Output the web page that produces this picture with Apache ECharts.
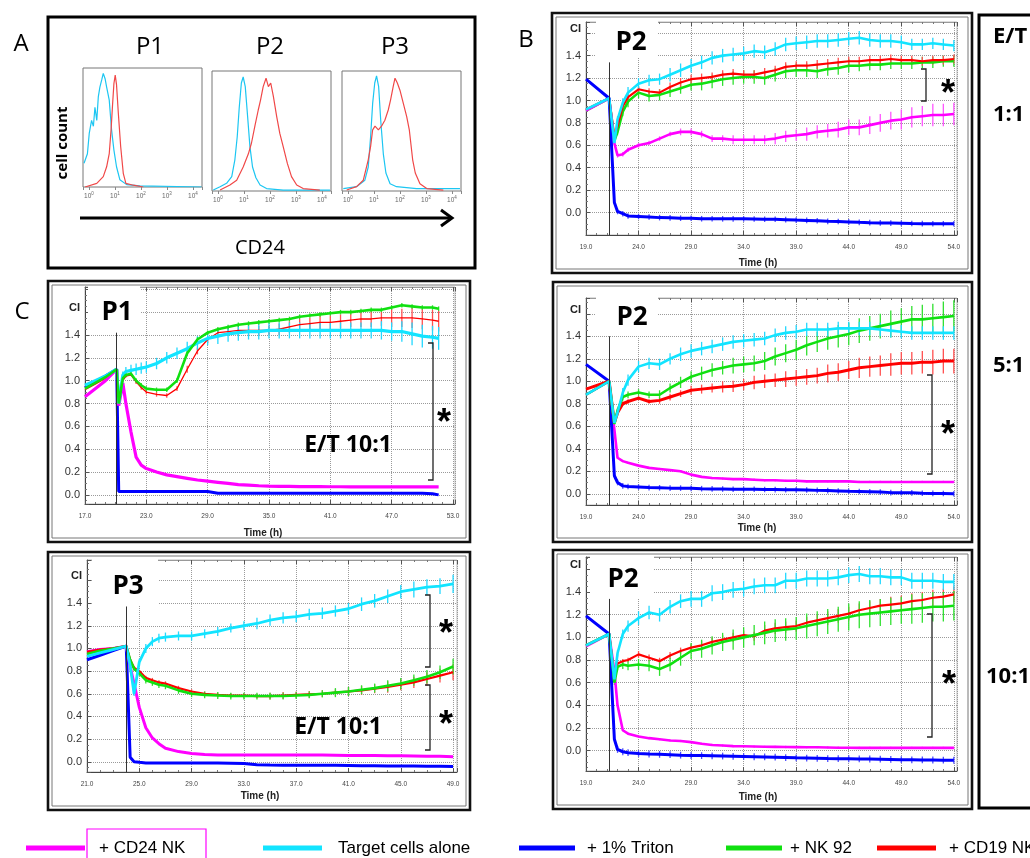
<!DOCTYPE html>
<html>
<head>
<meta charset="utf-8">
<title>CD24 NK cytotoxicity</title>
<script src="https://cdn.jsdelivr.net/npm/echarts@6.0.0/dist/echarts.min.js"></script>
<style>
  html, body { margin: 0; padding: 0; background: #fff; }
  #chart { width: 1030px; height: 858px; }
</style>
</head>
<body>
<div id="chart"></div>
<script>
// ---- A: CD24 histograms  [log10 intensity, relative count] ----
const histP1Cyan = [[-0.19,0.20],[-0.06,0.28],[0.01,0.45],[0.10,0.56],[0.17,0.51],[0.23,0.67],[0.30,0.56],[0.36,0.76],[0.42,0.84],[0.49,0.90],[0.55,0.955],[0.62,0.91],[0.68,0.84],[0.78,0.73],[0.87,0.48],[0.96,0.31],[1.06,0.17],[1.19,0.06],[1.45,0.02],[1.96,0.01],[4.33,0.0]];
const histP1Red = [[-0.15,0.0],[0.30,0.03],[0.55,0.087],[0.68,0.17],[0.78,0.28],[0.85,0.48],[0.91,0.70],[0.96,0.87],[1.01,0.94],[1.06,0.86],[1.13,0.62],[1.22,0.34],[1.32,0.115],[1.42,0.03],[1.71,0.015],[2.09,0.0]];
const histP2Cyan = [[-0.18,0.008],[0.08,0.036],[0.33,0.064],[0.53,0.12],[0.65,0.26],[0.74,0.45],[0.82,0.70],[0.90,0.90],[0.97,0.95],[1.05,0.87],[1.13,0.65],[1.23,0.37],[1.33,0.20],[1.46,0.11],[1.62,0.05],[1.87,0.02],[2.51,0.008],[4.31,0.008]];
const histP2Red = [[0.08,0.008],[0.46,0.05],[0.72,0.09],[0.97,0.20],[1.17,0.31],[1.29,0.40],[1.42,0.54],[1.55,0.675],[1.64,0.76],[1.74,0.87],[1.85,0.94],[1.94,0.87],[2.03,0.90],[2.13,0.79],[2.26,0.62],[2.38,0.48],[2.51,0.37],[2.67,0.23],[2.83,0.12],[3.03,0.05],[3.28,0.02],[3.92,0.008]];
const histP3Cyan = [[-0.18,0.02],[0.33,0.036],[0.65,0.09],[0.78,0.20],[0.87,0.45],[0.95,0.73],[1.03,0.90],[1.10,0.96],[1.18,0.87],[1.26,0.59],[1.36,0.31],[1.46,0.15],[1.62,0.06],[1.87,0.036],[2.64,0.02],[4.31,0.02]];
const histP3Red = [[-0.05,0.008],[0.33,0.036],[0.59,0.09],[0.78,0.26],[0.87,0.37],[0.95,0.51],[1.04,0.54],[1.17,0.51],[1.29,0.54],[1.42,0.59],[1.55,0.675],[1.64,0.76],[1.74,0.87],[1.81,0.94],[1.90,0.90],[2.00,0.84],[2.13,0.73],[2.26,0.62],[2.36,0.51],[2.49,0.26],[2.59,0.15],[2.77,0.06],[3.03,0.02],[3.67,0.008]];

// ---- P2 panels (B 1:1, C 5:1, C 10:1), time in h ----
const timeP2 = [19, 21.2, 21.7, 22, 22.5, 23, 24, 25, 26, 27, 28, 29, 30, 31, 32, 33, 34, 35, 36, 37, 38, 39, 40, 41, 42, 43, 44, 45, 46, 47, 48, 49, 50, 51, 52, 53, 54];

// B, E/T 1:1
const cyan11 = [0.92, 1.02, 0.62, 0.83, 0.98, 1.07, 1.15, 1.18, 1.19, 1.23, 1.27, 1.31, 1.34, 1.38, 1.40, 1.41, 1.42, 1.44, 1.43, 1.46, 1.50, 1.51, 1.52, 1.53, 1.53, 1.54, 1.55, 1.56, 1.54, 1.53, 1.53, 1.52, 1.50, 1.50, 1.51, 1.50, 1.49];
const red11 = [0.92, 1.02, 0.68, 0.77, 0.95, 1.03, 1.10, 1.08, 1.07, 1.12, 1.16, 1.19, 1.20, 1.21, 1.23, 1.24, 1.23, 1.23, 1.25, 1.27, 1.30, 1.31, 1.31, 1.32, 1.33, 1.34, 1.35, 1.35, 1.36, 1.36, 1.37, 1.36, 1.36, 1.35, 1.36, 1.36, 1.37];
const green11 = [0.91, 1.02, 0.64, 0.72, 0.90, 0.99, 1.07, 1.04, 1.05, 1.08, 1.11, 1.14, 1.15, 1.17, 1.19, 1.20, 1.21, 1.21, 1.20, 1.23, 1.26, 1.27, 1.27, 1.26, 1.28, 1.29, 1.31, 1.31, 1.32, 1.32, 1.33, 1.33, 1.33, 1.34, 1.34, 1.35, 1.35];
const mag11 = [0.91, 1.02, 0.62, 0.51, 0.52, 0.56, 0.60, 0.62, 0.66, 0.70, 0.72, 0.72, 0.70, 0.66, 0.66, 0.65, 0.65, 0.65, 0.65, 0.66, 0.68, 0.69, 0.70, 0.72, 0.73, 0.74, 0.76, 0.76, 0.78, 0.80, 0.82, 0.83, 0.85, 0.86, 0.87, 0.87, 0.88];
const blue11 = [1.19, 1.02, 0.09, 0.01, -0.01, -0.03, -0.035, -0.04, -0.045, -0.047, -0.05, -0.05, -0.055, -0.055, -0.056, -0.056, -0.056, -0.057, -0.06, -0.06, -0.063, -0.067, -0.07, -0.073, -0.078, -0.08, -0.083, -0.087, -0.09, -0.092, -0.094, -0.096, -0.098, -0.099, -0.1, -0.1, -0.1];
const cyan11Err = [0, 0, 0.02, 0.03, 0.04, 0.05, 0.05, 0.05, 0.05, 0.06, 0.06, 0.06, 0.06, 0.06, 0.06, 0.06, 0.06, 0.06, 0.06, 0.06, 0.06, 0.06, 0.06, 0.06, 0.06, 0.06, 0.06, 0.06, 0.06, 0.06, 0.06, 0.06, 0.05, 0.05, 0.05, 0.05, 0.05];
const red11Err = [0, 0, 0.02, 0.02, 0.03, 0.03, 0.03, 0.03, 0.03, 0.04, 0.04, 0.04, 0.04, 0.04, 0.04, 0.04, 0.04, 0.04, 0.04, 0.04, 0.04, 0.04, 0.04, 0.04, 0.04, 0.04, 0.04, 0.04, 0.04, 0.04, 0.04, 0.04, 0.04, 0.04, 0.04, 0.04, 0.04];
const green11Err = [0, 0, 0.02, 0.03, 0.04, 0.05, 0.05, 0.05, 0.05, 0.05, 0.05, 0.05, 0.06, 0.06, 0.06, 0.06, 0.06, 0.06, 0.06, 0.06, 0.06, 0.06, 0.06, 0.06, 0.06, 0.06, 0.06, 0.05, 0.05, 0.05, 0.05, 0.05, 0.05, 0.05, 0.05, 0.05, 0.05];
const mag11Err = [0, 0, 0.01, 0.02, 0.02, 0.02, 0.02, 0.02, 0.02, 0.02, 0.03, 0.03, 0.03, 0.03, 0.03, 0.04, 0.04, 0.04, 0.04, 0.05, 0.05, 0.05, 0.06, 0.06, 0.06, 0.07, 0.07, 0.07, 0.08, 0.08, 0.08, 0.09, 0.09, 0.09, 0.1, 0.1, 0.1];
const blue11Err = [0, 0, 0, 0.025, 0.025, 0.025, 0.025, 0.025, 0.025, 0.025, 0.025, 0.025, 0.025, 0.025, 0.025, 0.025, 0.025, 0.025, 0.025, 0.025, 0.025, 0.025, 0.025, 0.025, 0.025, 0.025, 0.025, 0.025, 0.025, 0.025, 0.025, 0.025, 0.025, 0.025, 0.025, 0.025, 0.025];

// C, P2 E/T 5:1
const cyan51 = [0.88, 1.0, 0.63, 0.72, 0.90, 1.01, 1.13, 1.16, 1.15, 1.20, 1.24, 1.27, 1.29, 1.31, 1.33, 1.35, 1.36, 1.37, 1.38, 1.41, 1.43, 1.44, 1.46, 1.46, 1.46, 1.47, 1.47, 1.47, 1.47, 1.46, 1.45, 1.44, 1.43, 1.43, 1.43, 1.43, 1.43];
const green51 = [0.88, 1.0, 0.62, 0.74, 0.86, 0.88, 0.90, 0.88, 0.88, 0.94, 0.99, 1.04, 1.07, 1.10, 1.12, 1.14, 1.15, 1.16, 1.18, 1.22, 1.25, 1.28, 1.32, 1.35, 1.38, 1.40, 1.42, 1.45, 1.47, 1.49, 1.51, 1.53, 1.55, 1.55, 1.56, 1.57, 1.58];
const red51 = [0.93, 1.0, 0.63, 0.72, 0.80, 0.82, 0.85, 0.82, 0.83, 0.86, 0.89, 0.92, 0.93, 0.94, 0.95, 0.955, 0.97, 0.99, 1.0, 1.01, 1.02, 1.03, 1.04, 1.05, 1.07, 1.08, 1.10, 1.12, 1.13, 1.14, 1.15, 1.16, 1.16, 1.17, 1.17, 1.18, 1.18];
const mag51 = [0.88, 1.0, 0.57, 0.32, 0.29, 0.275, 0.25, 0.23, 0.22, 0.21, 0.20, 0.17, 0.15, 0.14, 0.135, 0.13, 0.13, 0.125, 0.12, 0.12, 0.115, 0.115, 0.11, 0.11, 0.11, 0.11, 0.11, 0.105, 0.105, 0.105, 0.105, 0.105, 0.105, 0.105, 0.105, 0.105, 0.105];
const blue51 = [1.15, 1.0, 0.16, 0.10, 0.07, 0.065, 0.06, 0.055, 0.053, 0.05, 0.05, 0.048, 0.045, 0.043, 0.042, 0.04, 0.04, 0.04, 0.038, 0.037, 0.036, 0.035, 0.033, 0.03, 0.028, 0.025, 0.022, 0.02, 0.018, 0.015, 0.01, 0.01, 0.008, 0.005, 0.003, 0.002, 0.0];
const cyan51Err = [0, 0, 0.02, 0.03, 0.04, 0.05, 0.05, 0.05, 0.05, 0.05, 0.06, 0.06, 0.06, 0.06, 0.06, 0.06, 0.06, 0.06, 0.06, 0.06, 0.06, 0.06, 0.06, 0.06, 0.06, 0.06, 0.06, 0.06, 0.06, 0.06, 0.06, 0.06, 0.06, 0.06, 0.06, 0.06, 0.06];
const green51Err = [0, 0, 0.02, 0.02, 0.03, 0.03, 0.03, 0.03, 0.04, 0.04, 0.05, 0.05, 0.06, 0.06, 0.06, 0.07, 0.07, 0.07, 0.08, 0.08, 0.08, 0.09, 0.09, 0.09, 0.1, 0.1, 0.1, 0.11, 0.11, 0.11, 0.12, 0.12, 0.12, 0.13, 0.13, 0.14, 0.14];
const red51Err = [0, 0, 0.01, 0.02, 0.02, 0.02, 0.02, 0.02, 0.03, 0.03, 0.03, 0.04, 0.04, 0.04, 0.05, 0.05, 0.05, 0.06, 0.06, 0.06, 0.07, 0.07, 0.07, 0.07, 0.08, 0.08, 0.08, 0.09, 0.09, 0.09, 0.1, 0.1, 0.1, 0.1, 0.11, 0.11, 0.11];
const mag51Err = [0, 0, 0.01, 0.01, 0.01, 0.01, 0.01, 0.01, 0.01, 0.01, 0.01, 0.01, 0.01, 0.01, 0.01, 0.01, 0.01, 0.01, 0.01, 0.01, 0.01, 0.01, 0.01, 0.01, 0.01, 0.01, 0.01, 0.01, 0.01, 0.01, 0.01, 0.01, 0.01, 0.01, 0.01, 0.01, 0.01];
const blue51Err = [0, 0, 0, 0.025, 0.025, 0.025, 0.025, 0.025, 0.025, 0.025, 0.025, 0.025, 0.025, 0.025, 0.025, 0.025, 0.025, 0.025, 0.025, 0.025, 0.025, 0.025, 0.025, 0.025, 0.025, 0.025, 0.025, 0.025, 0.025, 0.025, 0.025, 0.025, 0.025, 0.025, 0.025, 0.025, 0.025];

// C, P2 E/T 10:1
const cyan101 = [0.93, 1.03, 0.63, 0.86, 1.03, 1.10, 1.17, 1.22, 1.20, 1.27, 1.32, 1.34, 1.34, 1.39, 1.40, 1.42, 1.43, 1.45, 1.46, 1.46, 1.50, 1.50, 1.52, 1.52, 1.52, 1.53, 1.55, 1.56, 1.54, 1.54, 1.53, 1.53, 1.50, 1.50, 1.50, 1.49, 1.49];
const red101 = [0.93, 1.03, 0.65, 0.77, 0.79, 0.80, 0.85, 0.82, 0.79, 0.84, 0.88, 0.91, 0.93, 0.96, 0.98, 1.0, 1.02, 1.01, 1.06, 1.08, 1.09, 1.10, 1.13, 1.15, 1.17, 1.19, 1.21, 1.24, 1.26, 1.28, 1.29, 1.30, 1.32, 1.33, 1.35, 1.36, 1.38];
const green101 = [0.93, 1.03, 0.60, 0.74, 0.76, 0.75, 0.76, 0.75, 0.72, 0.76, 0.82, 0.88, 0.90, 0.93, 0.96, 0.98, 1.0, 1.02, 1.04, 1.06, 1.07, 1.08, 1.10, 1.12, 1.14, 1.16, 1.18, 1.20, 1.21, 1.22, 1.23, 1.24, 1.25, 1.26, 1.27, 1.27, 1.28];
const mag101 = [0.92, 1.03, 0.70, 0.40, 0.18, 0.15, 0.125, 0.11, 0.10, 0.09, 0.085, 0.075, 0.06, 0.05, 0.045, 0.04, 0.038, 0.036, 0.034, 0.033, 0.032, 0.031, 0.03, 0.03, 0.028, 0.026, 0.025, 0.024, 0.024, 0.024, 0.024, 0.024, 0.024, 0.024, 0.024, 0.024, 0.024];
const blue101 = [1.19, 1.03, 0.10, 0.01, -0.01, -0.018, -0.025, -0.03, -0.033, -0.036, -0.04, -0.043, -0.044, -0.046, -0.048, -0.05, -0.052, -0.054, -0.056, -0.058, -0.061, -0.064, -0.066, -0.068, -0.07, -0.071, -0.072, -0.073, -0.074, -0.076, -0.078, -0.08, -0.081, -0.082, -0.083, -0.084, -0.085];
const cyan101Err = [0, 0, 0.02, 0.03, 0.04, 0.05, 0.06, 0.06, 0.06, 0.06, 0.06, 0.07, 0.07, 0.07, 0.07, 0.07, 0.07, 0.07, 0.07, 0.07, 0.07, 0.07, 0.07, 0.07, 0.07, 0.07, 0.07, 0.07, 0.07, 0.07, 0.07, 0.07, 0.07, 0.07, 0.07, 0.07, 0.07];
const green101Err = [0, 0, 0.02, 0.03, 0.04, 0.04, 0.05, 0.05, 0.06, 0.06, 0.07, 0.07, 0.08, 0.08, 0.08, 0.09, 0.09, 0.09, 0.1, 0.1, 0.1, 0.1, 0.11, 0.11, 0.11, 0.11, 0.12, 0.12, 0.12, 0.12, 0.12, 0.12, 0.13, 0.13, 0.13, 0.13, 0.13];
const red101Err = [0, 0, 0.01, 0.02, 0.02, 0.02, 0.03, 0.03, 0.03, 0.03, 0.03, 0.03, 0.04, 0.04, 0.04, 0.04, 0.04, 0.04, 0.05, 0.05, 0.05, 0.05, 0.05, 0.05, 0.06, 0.06, 0.06, 0.06, 0.06, 0.06, 0.07, 0.07, 0.07, 0.07, 0.07, 0.07, 0.07];
const mag101Err = mag51Err;
const blue101Err = [0, 0, 0, 0.03, 0.03, 0.03, 0.03, 0.03, 0.03, 0.03, 0.03, 0.03, 0.03, 0.03, 0.03, 0.03, 0.03, 0.03, 0.03, 0.03, 0.03, 0.03, 0.03, 0.03, 0.03, 0.03, 0.03, 0.03, 0.03, 0.03, 0.03, 0.03, 0.03, 0.03, 0.03, 0.03, 0.03];

// ---- C, P1 E/T 10:1 ----
const timeP1 = [17, 18, 19, 20.1, 20.3, 20.7, 21, 21.5, 22, 22.5, 23, 24, 25, 26, 27, 28, 29, 30, 31, 32, 33, 34, 35, 36, 37, 38, 39, 40, 41, 42, 43, 44, 45, 46, 47, 48, 49, 50, 51, 51.6];
const cyanP1 = [0.96, 1.0, 1.04, 1.1, 0.8, 1.05, 1.08, 1.09, 1.10, 1.11, 1.12, 1.15, 1.20, 1.24, 1.28, 1.33, 1.37, 1.39, 1.41, 1.42, 1.43, 1.43, 1.44, 1.44, 1.44, 1.44, 1.44, 1.44, 1.44, 1.44, 1.44, 1.44, 1.44, 1.44, 1.43, 1.43, 1.41, 1.39, 1.38, 1.37];
const greenP1 = [0.93, 0.98, 1.03, 1.1, 0.8, 1.02, 1.05, 1.06, 1.0, 0.96, 0.93, 0.92, 0.92, 1.0, 1.24, 1.36, 1.42, 1.45, 1.47, 1.49, 1.50, 1.51, 1.52, 1.53, 1.54, 1.56, 1.57, 1.58, 1.59, 1.60, 1.60, 1.61, 1.62, 1.62, 1.64, 1.66, 1.65, 1.64, 1.64, 1.63];
const redP1 = [0.92, 0.97, 1.02, 1.1, 0.8, 1.0, 1.04, 1.05, 0.99, 0.94, 0.90, 0.88, 0.87, 0.93, 1.10, 1.26, 1.36, 1.42, 1.43, 1.44, 1.44, 1.44, 1.44, 1.45, 1.47, 1.49, 1.50, 1.51, 1.51, 1.52, 1.53, 1.54, 1.54, 1.55, 1.55, 1.55, 1.55, 1.54, 1.53, 1.52];
const magP1 = [0.86, 0.93, 1.0, 1.1, 0.78, 0.98, 0.80, 0.55, 0.33, 0.26, 0.23, 0.20, 0.175, 0.16, 0.145, 0.13, 0.12, 0.11, 0.10, 0.09, 0.085, 0.08, 0.076, 0.075, 0.074, 0.073, 0.072, 0.072, 0.071, 0.071, 0.07, 0.07, 0.07, 0.07, 0.07, 0.07, 0.07, 0.07, 0.07, 0.07];
const blueP1 = [0.94, 0.99, 1.04, 1.10, 0.03, 0.03, 0.03, 0.03, 0.03, 0.03, 0.03, 0.03, 0.03, 0.03, 0.03, 0.03, 0.03, 0.015, 0.015, 0.015, 0.015, 0.015, 0.015, 0.015, 0.015, 0.015, 0.015, 0.015, 0.015, 0.015, 0.015, 0.015, 0.015, 0.015, 0.015, 0.015, 0.015, 0.015, 0.01, 0.0];
const cyanP1Err = [0, 0, 0, 0, 0.02, 0.03, 0.04, 0.05, 0.05, 0.05, 0.05, 0.05, 0.05, 0.05, 0.06, 0.06, 0.06, 0.07, 0.07, 0.07, 0.07, 0.07, 0.07, 0.07, 0.07, 0.07, 0.07, 0.07, 0.07, 0.07, 0.07, 0.07, 0.07, 0.08, 0.08, 0.09, 0.1, 0.1, 0.1, 0.1];
const greenP1Err = [0, 0, 0, 0, 0.02, 0.02, 0.02, 0.02, 0.02, 0.02, 0.02, 0.02, 0.02, 0.02, 0.02, 0.02, 0.02, 0.02, 0.02, 0.02, 0.02, 0.02, 0.02, 0.02, 0.02, 0.02, 0.02, 0.02, 0.02, 0.02, 0.02, 0.02, 0.02, 0.02, 0.02, 0.02, 0.02, 0.02, 0.02, 0.02];
const redP1Err = [0, 0, 0, 0, 0.01, 0.01, 0.01, 0.01, 0.02, 0.02, 0.02, 0.02, 0.02, 0.02, 0.03, 0.03, 0.03, 0.03, 0.04, 0.04, 0.04, 0.04, 0.04, 0.05, 0.05, 0.05, 0.05, 0.06, 0.06, 0.06, 0.06, 0.07, 0.07, 0.07, 0.08, 0.08, 0.09, 0.09, 0.09, 0.09];

// ---- C, P3 E/T 10:1 ----
const timeP3 = [21, 22, 23, 24, 24.3, 24.6, 25, 25.5, 26, 26.5, 27, 28, 29, 30, 31, 32, 33, 34, 35, 36, 37, 38, 39, 40, 41, 42, 43, 44, 45, 46, 47, 48, 49];
const cyanP3 = [0.93, 0.96, 0.99, 1.02, 0.85, 0.60, 0.88, 1.0, 1.06, 1.09, 1.10, 1.11, 1.11, 1.13, 1.15, 1.18, 1.20, 1.22, 1.25, 1.27, 1.28, 1.30, 1.31, 1.33, 1.35, 1.39, 1.42, 1.46, 1.50, 1.52, 1.54, 1.55, 1.57];
const greenP3 = [0.95, 0.98, 1.0, 1.02, 0.90, 0.82, 0.78, 0.72, 0.70, 0.68, 0.67, 0.63, 0.60, 0.59, 0.585, 0.58, 0.58, 0.58, 0.58, 0.58, 0.585, 0.59, 0.60, 0.61, 0.62, 0.635, 0.65, 0.67, 0.69, 0.72, 0.75, 0.79, 0.84];
const redP3 = [0.97, 0.99, 1.0, 1.02, 0.90, 0.83, 0.80, 0.74, 0.72, 0.70, 0.69, 0.65, 0.62, 0.60, 0.59, 0.585, 0.585, 0.58, 0.58, 0.585, 0.59, 0.595, 0.60, 0.61, 0.62, 0.63, 0.645, 0.66, 0.68, 0.70, 0.73, 0.76, 0.79];
const magP3 = [0.97, 0.99, 1.0, 1.02, 0.84, 0.69, 0.48, 0.30, 0.21, 0.16, 0.12, 0.09, 0.074, 0.065, 0.06, 0.06, 0.06, 0.06, 0.06, 0.06, 0.06, 0.06, 0.06, 0.058, 0.056, 0.055, 0.055, 0.054, 0.053, 0.052, 0.05, 0.048, 0.045];
const blueP3 = [0.90, 0.94, 0.98, 1.02, 0.04, 0.0, -0.005, -0.01, -0.01, -0.01, -0.01, -0.01, -0.01, -0.01, -0.01, -0.012, -0.015, -0.025, -0.028, -0.03, -0.03, -0.03, -0.03, -0.03, -0.032, -0.035, -0.035, -0.037, -0.038, -0.038, -0.04, -0.04, -0.042];
const cyanP3Err = [0, 0, 0, 0, 0.01, 0.02, 0.03, 0.04, 0.04, 0.04, 0.04, 0.04, 0.04, 0.04, 0.04, 0.04, 0.04, 0.05, 0.05, 0.05, 0.05, 0.05, 0.05, 0.05, 0.05, 0.06, 0.06, 0.06, 0.06, 0.07, 0.07, 0.07, 0.08];
const greenP3Err = [0, 0, 0, 0, 0.01, 0.02, 0.02, 0.03, 0.03, 0.03, 0.03, 0.03, 0.03, 0.03, 0.03, 0.03, 0.03, 0.03, 0.03, 0.03, 0.03, 0.03, 0.03, 0.04, 0.04, 0.04, 0.04, 0.05, 0.05, 0.05, 0.06, 0.06, 0.07];
const redP3Err = [0, 0, 0, 0, 0.01, 0.01, 0.01, 0.02, 0.02, 0.02, 0.02, 0.02, 0.02, 0.02, 0.02, 0.02, 0.02, 0.02, 0.03, 0.03, 0.03, 0.03, 0.03, 0.03, 0.04, 0.04, 0.04, 0.05, 0.05, 0.05, 0.06, 0.06, 0.07];

const legendNames = ['+ CD24 NK', 'Target cells alone', '+ 1% Triton', '+ NK 92', '+ CD19 NK'];

const COL = {
  mag:   { line: '#ff00ff', err: '#ff55ff' },
  cyan:  { line: '#12e4ff', err: '#22d8ff' },
  blue:  { line: '#0000ff', err: '#5050ff' },
  green: { line: '#10e010', err: '#30e030' },
  red:   { line: '#ff0000', err: '#ff5050' }
};

const chart = echarts.init(document.getElementById('chart'), null, { renderer: 'canvas' });

const grids = [], xAxes = [], yAxes = [], series = [], graphic = [];

// histogram grids (panel A)
const histPanels = [
  { box: { left: 83, top: 68, width: 119, height: 119 }, cyan: histP1Cyan, red: histP1Red },
  { box: { left: 212, top: 71, width: 119, height: 120 }, cyan: histP2Cyan, red: histP2Red },
  { box: { left: 342, top: 71, width: 119, height: 120 }, cyan: histP3Cyan, red: histP3Red }
];
histPanels.forEach((h, i) => {
  grids.push(Object.assign({ show: true, borderColor: '#777', borderWidth: 1, outerBoundsMode: 'none' }, h.box));
  xAxes.push({
    type: 'value', gridIndex: i, min: -0.23, max: 4.35, minInterval: 1, maxInterval: 1, splitNumber: 5,
    axisLine: { show: false },
    axisTick: { show: true, length: 3, lineStyle: { color: '#888' } },
    axisLabel: {
      fontSize: 6.5, color: '#666', margin: 4,
      formatter: v => Math.abs(v - Math.round(v)) < 1e-6 ? '10{s|' + Math.round(v) + '}' : '',
      rich: { s: { fontSize: 4.5, color: '#666', padding: [0, 0, 5, 0] } }
    },
    splitLine: { show: false }
  });
  yAxes.push({ type: 'value', gridIndex: i, min: 0, max: 1, show: false });
  series.push({ type: 'line', xAxisIndex: i, yAxisIndex: i, data: h.cyan, symbol: 'none', silent: true,
    lineStyle: { color: '#1cc6f2', width: 1.2 } });
  series.push({ type: 'line', xAxisIndex: i, yAxisIndex: i, data: h.red, symbol: 'none', silent: true,
    lineStyle: { color: '#f04848', width: 1.2 } });
});

// CI panels
function ciPanel(k, box, xr, yr, times, curves, drop) {
  const gi = 3 + k;
  grids.push(Object.assign({ show: true, borderColor: '#bbb', borderWidth: 1, outerBoundsMode: 'none' }, box));
  const [xmin, xmax, step] = xr;
  ['bottom', 'top'].forEach(pos => {
    const bottom = pos === 'bottom';
    xAxes.push({
      type: 'value', gridIndex: gi, position: pos, min: xmin, max: xmax, interval: step,
      axisLine: { show: true, onZero: false, lineStyle: { color: bottom ? '#444' : '#999', width: 1 } },
      axisTick: { show: true, inside: true, length: 4, lineStyle: { color: '#555' } },
      minorTick: { show: true, splitNumber: step, length: 2, lineStyle: { color: '#777' } },
      axisLabel: bottom ? {
        show: true, fontSize: 6.5, color: '#444', margin: 9, fontFamily: 'Liberation Sans',
        formatter: v => { const r = (v - xmin) / step; return Math.abs(r - Math.round(r)) < 1e-6 ? v.toFixed(1) : ''; }
      } : { show: false },
      splitLine: { show: bottom, lineStyle: { color: '#9a9a9a', type: 'dotted', width: 1 } }
    });
  });
  yAxes.push({
    type: 'value', gridIndex: gi, min: yr[0], max: yr[1], minInterval: 0.2, maxInterval: 0.2, splitNumber: 9,
    axisLine: { show: true, onZero: false, lineStyle: { color: '#444' } },
    axisTick: { show: true, inside: true, length: 4, lineStyle: { color: '#555' } },
    minorTick: { show: true, splitNumber: 4, length: 2, lineStyle: { color: '#777' } },
    axisLabel: {
      fontSize: 11, color: '#333', margin: 5, fontFamily: 'Liberation Sans',
      formatter: v => {
        if (Math.abs(v - 1.6) < 1e-6) return '{ci|CI}';
        const r = Math.round(v / 0.2);
        if (Math.abs(v - r * 0.2) > 1e-6 || v < -1e-6 || v > 1.41) return '';
        return Math.abs(v) < 1e-6 ? '0.0' : v.toFixed(1);
      },
      rich: { ci: { fontSize: 11, fontWeight: 'bold', color: '#222', fontFamily: 'Liberation Sans', padding: [0, 0, 8, 0] } }
    },
    splitLine: { show: true, lineStyle: { color: '#9a9a9a', type: 'dotted', width: 1 } }
  });
  const xi = 3 + 2 * k, yi = gi;
  curves.forEach((c, ci) => {
    if (c.err) {
      series.push({
        type: 'custom', xAxisIndex: xi, yAxisIndex: yi, z: 2, silent: true, clip: true,
        data: times.map((t, i) => [t, c.values[i], c.err[i]]),
        renderItem: (params, api) => {
          const e = api.value(2);
          if (!e) return null;
          const p0 = api.coord([api.value(0), api.value(1) - e]);
          const p1 = api.coord([api.value(0), api.value(1) + e]);
          return { type: 'line', shape: { x1: p0[0], y1: p0[1], x2: p1[0], y2: p1[1] },
            style: { stroke: COL[c.col].err, lineWidth: 1.3 } };
        }
      });
    }
    const s = {
      type: 'line', xAxisIndex: xi, yAxisIndex: yi, z: 3, symbol: 'none', silent: true,
      data: times.map((t, i) => [t, c.values[i]]),
      lineStyle: { color: COL[c.col].line, width: c.w || 2.6 }
    };
    if (ci === 0) {
      s.markLine = {
        silent: true, symbol: 'none', label: { show: false },
        lineStyle: { color: '#333', width: 1, type: 'solid' },
        data: [[{ coord: [drop[0], drop[1]] }, { coord: [drop[0], yr[0]] }]]
      };
    }
    series.push(s);
  });
}

ciPanel(0, { left: 586, top: 22, width: 371, height: 213 }, [19, 54.3, 5], [-0.2, 1.7], timeP2, [
  { col: 'green', values: green11, err: green11Err },
  { col: 'red', values: red11, err: red11Err, w: 2.2 },
  { col: 'mag', values: mag11, err: mag11Err },
  { col: 'blue', values: blue11, err: blue11Err, w: 3 },
  { col: 'cyan', values: cyan11, err: cyan11Err }
], [21.2, 1.34]);

ciPanel(1, { left: 586, top: 298, width: 371, height: 207 }, [19, 54.3, 5], [-0.1, 1.74], timeP2, [
  { col: 'mag', values: mag51, err: mag51Err },
  { col: 'blue', values: blue51, err: blue51Err, w: 3 },
  { col: 'red', values: red51, err: red51Err, w: 3 },
  { col: 'green', values: green51, err: green51Err },
  { col: 'cyan', values: cyan51, err: cyan51Err }
], [21.2, 1.40]);

ciPanel(2, { left: 586, top: 557, width: 371, height: 214 }, [19, 54.3, 5], [-0.18, 1.71], timeP2, [
  { col: 'mag', values: mag101, err: mag101Err },
  { col: 'blue', values: blue101, err: blue101Err, w: 3 },
  { col: 'red', values: red101, err: red101Err, w: 2.2 },
  { col: 'green', values: green101, err: green101Err },
  { col: 'cyan', values: cyan101, err: cyan101Err }
], [21.25, 1.34]);

ciPanel(3, { left: 85, top: 287, width: 370, height: 217 }, [17, 53.2, 6], [-0.08, 1.82], timeP1, [
  { col: 'blue', values: blueP1, err: null, w: 3 },
  { col: 'red', values: redP1, err: redP1Err, w: 1.3 },
  { col: 'mag', values: magP1, err: null, w: 3.2 },
  { col: 'cyan', values: cyanP1, err: cyanP1Err, w: 3.2 },
  { col: 'green', values: greenP1, err: greenP1Err, w: 2.6 }
], [20.1, 1.42]);

ciPanel(4, { left: 87, top: 560, width: 370, height: 212 }, [21, 49.3, 4], [-0.09, 1.78], timeP3, [
  { col: 'blue', values: blueP3, err: null, w: 3 },
  { col: 'mag', values: magP3, err: null, w: 3 },
  { col: 'red', values: redP3, err: redP3Err, w: 2.2 },
  { col: 'green', values: greenP3, err: greenP3Err, w: 2.6 },
  { col: 'cyan', values: cyanP3, err: cyanP3Err, w: 2.8 }
], [24.0, 1.37]);

// ---- annotations ----
const SANS = "'Open Sans', 'Noto Sans', sans-serif";
function text(x, y, s, size, extra) {
  graphic.push({ type: 'text', x, y, z: 30, silent: true,
    style: Object.assign({ text: s, fontSize: size, fontFamily: SANS, fill: '#000', align: 'center', verticalAlign: 'middle' }, extra || {}) });
}
function rect(x, y, w, h, stroke, lw, fill, z) {
  graphic.push({ type: 'rect', z: z || 25, silent: true, shape: { x, y, width: w, height: h },
    style: { fill: fill || 'transparent', stroke: stroke || null, lineWidth: lw || 0 } });
}
function frame(x, y, w, h) {
  rect(x, y, w, h, '#111', 2.6);
  rect(x + 4, y + 4, w - 8, h - 8, '#777', 1);
}
function bracket(x, y1, y2) {
  graphic.push({ type: 'polyline', z: 30, silent: true,
    shape: { points: [[x - 5, y1], [x, y1], [x, y2], [x - 5, y2]] },
    style: { stroke: '#222', lineWidth: 1.3, fill: null } });
}
function star(x, y) {
  text(x, y + 9, '*', 36, { fontWeight: 'bold', fontFamily: "'Liberation Sans', sans-serif" });
}
function timeLabel(x, y) {
  text(x, y, 'Time (h)', 10, { fontWeight: 'bold', fontFamily: "'Liberation Sans', sans-serif", fill: '#222' });
}
function plotTag(x, y, s, bx, by, bw, bh) {
  rect(bx, by, bw, bh, null, 0, '#fff', 20);
  text(x, y, s, 26, { fontWeight: 'bold' });
}

// panel A
rect(48, 17, 427, 251, '#000', 3);
text(21, 44, 'A', 24);
text(150, 47, 'P1', 24);
text(270, 47, 'P2', 24);
text(395, 47, 'P3', 24);
graphic.push({ type: 'text', x: 63, y: 143, rotation: Math.PI / 2, z: 30, silent: true,
  style: { text: 'cell count', fontSize: 15, fontWeight: 'bold', fontFamily: SANS, fill: '#000', align: 'center', verticalAlign: 'middle' } });
graphic.push({ type: 'line', z: 30, silent: true, shape: { x1: 80, y1: 218, x2: 450, y2: 218 }, style: { stroke: '#000', lineWidth: 3 } });
graphic.push({ type: 'polyline', z: 30, silent: true, shape: { points: [[441, 210], [452, 218], [441, 226]] },
  style: { stroke: '#000', lineWidth: 3, fill: null } });
text(260, 248, 'CD24', 20);

// panel B and C labels, frames
text(526, 40, 'B', 24);
text(22, 312, 'C', 24);
frame(552, 13, 420, 260);
frame(553, 282, 419, 260);
frame(553, 550, 419, 259);
frame(48, 281, 422, 261);
frame(48, 552, 422, 258);

// E/T column
rect(979, 15, 80, 793, '#000', 3);
text(993, 37, 'E/T', 22, { fontWeight: 'bold', align: 'left' });
text(993, 115, '1:1', 22, { fontWeight: 'bold', align: 'left' });
text(993, 366, '5:1', 22, { fontWeight: 'bold', align: 'left' });
text(986, 677, '10:1', 22, { fontWeight: 'bold', align: 'left' });

// tags inside plots
plotTag(631, 43, 'P2', 596, 21, 62, 36);
plotTag(632, 318, 'P2', 596, 297, 62, 38);
plotTag(623, 580, 'P2', 590, 556, 64, 42);
plotTag(117, 313, 'P1', 88, 286, 52, 44);
plotTag(128, 587, 'P3', 92, 559, 66, 46);
text(348, 445, 'E/T 10:1', 23, { fontWeight: 'bold' });
text(338, 727, 'E/T 10:1', 23, { fontWeight: 'bold' });

// significance brackets
bracket(926, 69, 101); star(948, 86);
bracket(932, 375, 474); star(948, 427);
bracket(932, 614, 737); star(949, 677);
bracket(433, 343, 480); star(444, 415);
bracket(430, 595, 667); star(446, 626);
bracket(430, 685, 750); star(446, 717);

timeLabel(758, 263);
timeLabel(757, 528);
timeLabel(758, 797);
timeLabel(263, 533);
timeLabel(260, 796);

// legend row
const legendItems = [
  { col: 'mag', x1: 26, x2: 85, tx: 99 },
  { col: 'cyan', x1: 263, x2: 322, tx: 338 },
  { col: 'blue', x1: 519, x2: 575, tx: 587 },
  { col: 'green', x1: 726, x2: 782, tx: 790 },
  { col: 'red', x1: 877, x2: 936, tx: 949 }
];
legendItems.forEach((it, i) => {
  graphic.push({ type: 'line', z: 30, silent: true, shape: { x1: it.x1, y1: 848, x2: it.x2, y2: 848 },
    style: { stroke: COL[it.col].line, lineWidth: 5 } });
  text(it.tx, 848, legendNames[i], 17, { align: 'left', fontFamily: "'Liberation Sans', sans-serif" });
});
rect(87, 829, 119, 34, '#ff00ff', 1.2);

chart.setOption({
  animation: false,
  backgroundColor: '#fff',
  textStyle: { fontFamily: 'Liberation Sans' },
  grid: grids,
  xAxis: xAxes,
  yAxis: yAxes,
  series: series,
  graphic: graphic
});
</script>
</body>
</html>
